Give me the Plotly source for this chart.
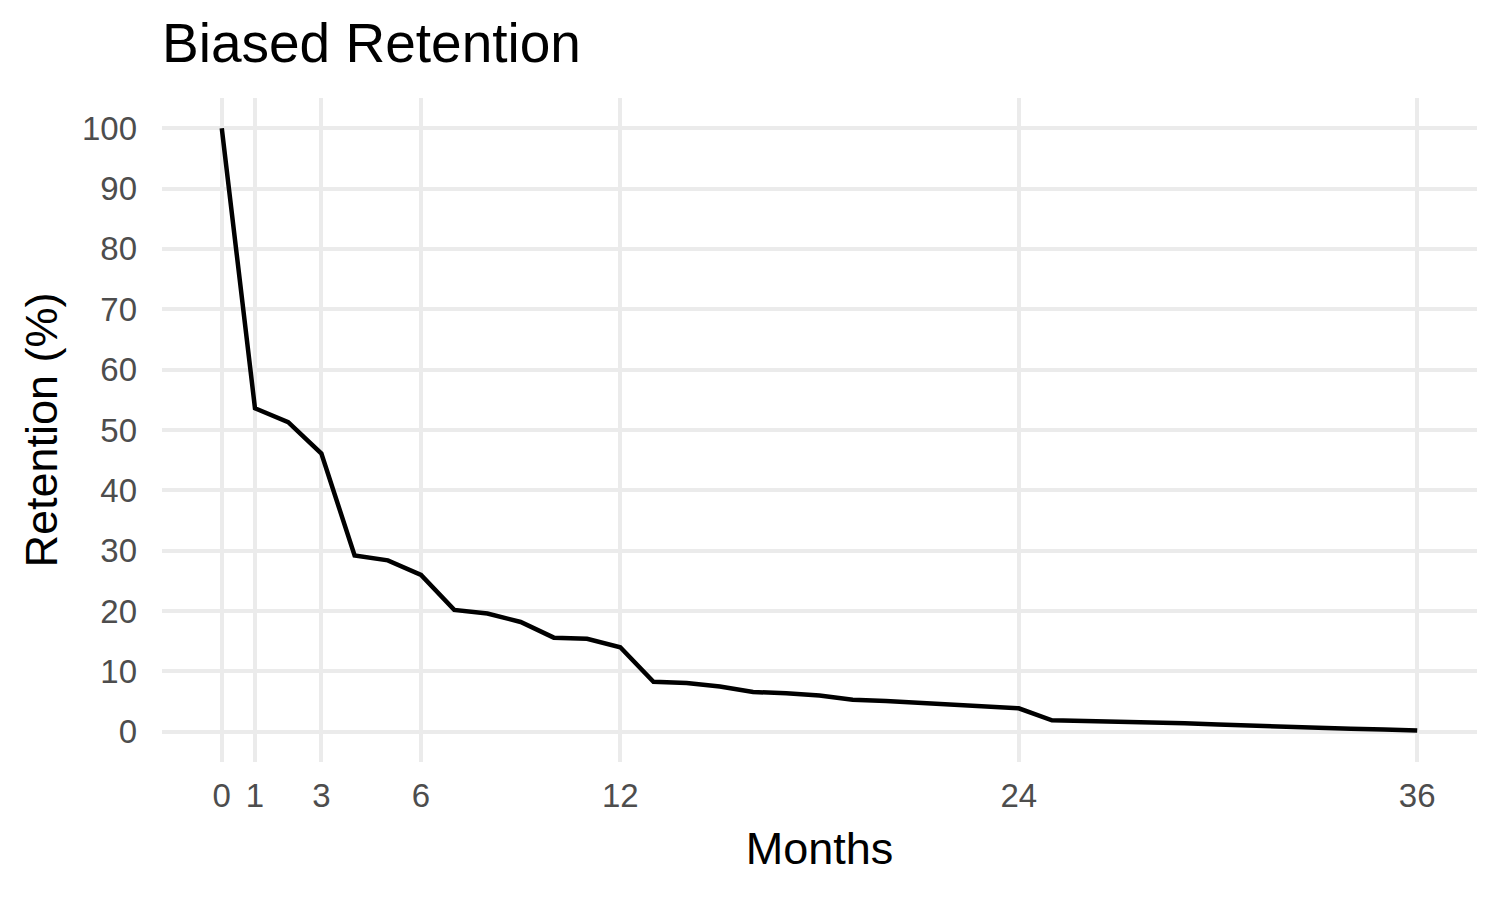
import plotly.graph_objects as go

months = list(range(0, 37))
retention = [100.0, 53.6, 51.3, 46.1, 29.2, 28.4, 26.0, 20.2, 19.6, 18.2, 15.6, 15.4, 14.0,
             8.3, 8.1, 7.5, 6.6, 6.4, 6.0, 5.3, 5.1, 4.8, 4.4, 4.2, 3.9,
             1.9, 1.8, 1.7, 1.5, 1.4, 1.2, 1.0, 0.9, 0.7, 0.5, 0.4, 0.2]
x_ticks = [0, 1, 3, 6, 12, 24, 36]
y_ticks = list(range(0, 101, 10))

FONT = "Liberation Sans, Arial, sans-serif"

fig = go.Figure()
fig.add_trace(go.Scatter(x=months, y=retention, mode="lines",
                         line=dict(color="black", width=4.5), showlegend=False,
                         hoverinfo="x+y"))

fig.update_layout(
    width=1500, height=900,
    paper_bgcolor="white", plot_bgcolor="white",
    margin=dict(l=154, r=31, t=90, b=146, autoexpand=False),
    title=dict(text="Biased Retention", x=154/1500, xanchor="left", xref="container",
               y=1 - 35/900, yanchor="middle", yref="container",
               font=dict(family=FONT, size=55, color="black")),
    font=dict(family=FONT),
    xaxis=dict(range=[-1.8, 37.8], tickmode="array", tickvals=x_ticks,
               ticktext=[str(v) for v in x_ticks],
               showgrid=True, gridcolor="#ebebeb", gridwidth=3.6,
               zeroline=False, showline=False, ticks="", automargin=False,
               tickfont=dict(family=FONT, size=33, color="#4d4d4d"),
               ticklabelstandoff=11,
               title=dict(text="Months", font=dict(family=FONT, size=45, color="black"),
                          standoff=19)),
    yaxis=dict(range=[-5, 105], tickmode="array", tickvals=y_ticks,
               ticktext=[str(v) for v in y_ticks],
               showgrid=True, gridcolor="#ebebeb", gridwidth=3.6,
               zeroline=False, showline=False, ticks="", automargin=False,
               tickfont=dict(family=FONT, size=33, color="#4d4d4d"),
               ticklabelstandoff=24,
               title=dict(text="Retention (%)", font=dict(family=FONT, size=45, color="black"),
                          standoff=10)),
)

fig.write_html("out.html")
